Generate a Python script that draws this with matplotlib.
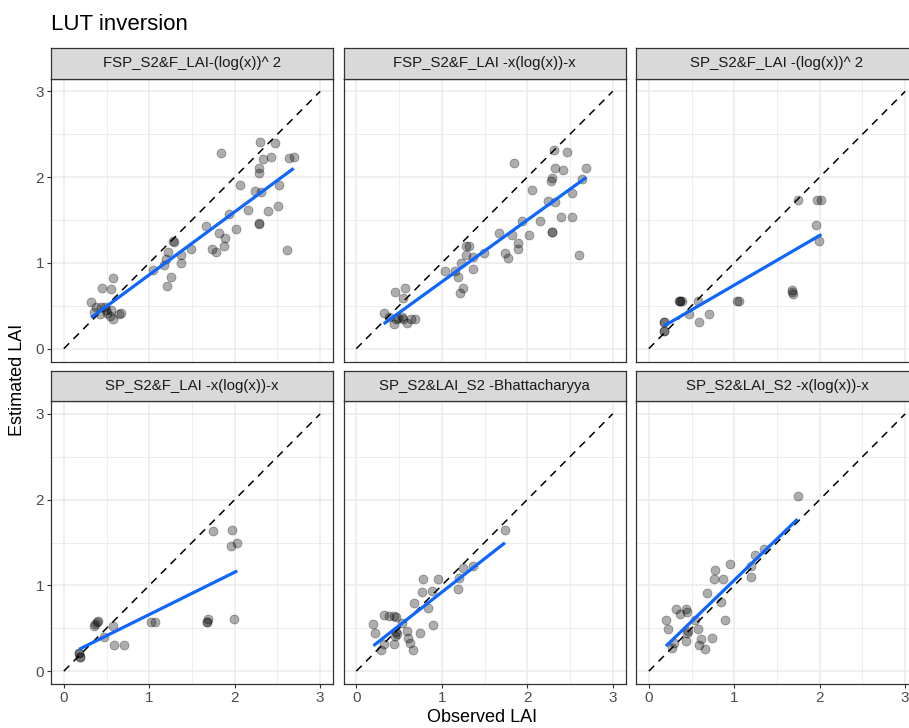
import numpy as np
import matplotlib
matplotlib.use("Agg")
import matplotlib.pyplot as plt

plt.rcParams['font.family'] = ['Liberation Sans', 'DejaVu Sans']

# panel titles
titles = [
    "FSP_S2&F_LAI-(log(x))^ 2",
    "FSP_S2&F_LAI -x(log(x))-x",
    "SP_S2&F_LAI -(log(x))^ 2",
    "SP_S2&F_LAI -x(log(x))-x",
    "SP_S2&LAI_S2 -Bhattacharyya",
    "SP_S2&LAI_S2 -x(log(x))-x",
]

# observed / estimated LAI per panel
obs1 = [2.30, 2.47, 1.84, 2.33, 2.42, 2.63, 2.69, 2.28, 2.28, 2.06, 2.52, 2.24, 2.31, 2.15,
        2.39, 2.51, 1.93, 2.28, 2.28, 1.66, 2.02, 1.82, 1.89, 1.87, 1.73, 1.78, 2.61, 1.28,
        1.29, 1.49, 1.22, 1.37, 1.19, 1.17, 1.37, 1.04, 1.25, 1.21, 0.57, 0.45, 0.55, 0.32,
        0.38, 0.35, 0.44, 0.49, 0.51, 0.55, 0.42, 0.58, 0.65, 0.67, 0.54, 0.48]
est1 = [2.41, 2.40, 2.28, 2.21, 2.24, 2.22, 2.24, 2.11, 2.05, 1.91, 1.91, 1.84, 1.83, 1.62,
        1.61, 1.66, 1.57, 1.47, 1.45, 1.43, 1.39, 1.35, 1.29, 1.20, 1.16, 1.13, 1.15, 1.25,
        1.24, 1.16, 1.13, 1.09, 1.05, 0.98, 1.00, 0.92, 0.83, 0.73, 0.82, 0.71, 0.69, 0.54,
        0.48, 0.43, 0.49, 0.45, 0.42, 0.45, 0.40, 0.35, 0.40, 0.41, 0.38, 0.48]

obs2 = [2.31, 2.47, 1.85, 2.33, 2.42, 2.69, 2.29, 2.28, 2.64, 2.06, 2.52, 2.24, 2.32, 2.39,
        2.52, 1.94, 2.15, 2.29, 2.29, 1.67, 1.82, 2.02, 1.89, 1.89, 1.74, 1.78, 2.61, 1.28,
        1.32, 1.28, 1.37, 1.49, 1.22, 1.04, 1.16, 1.37, 1.19, 1.25, 1.21, 0.45, 0.57, 0.55,
        0.32, 0.38, 0.44, 0.49, 0.53, 0.55, 0.59, 0.64, 0.69, 0.47]
est2 = [2.32, 2.29, 2.16, 2.11, 2.08, 2.11, 1.99, 1.95, 1.98, 1.85, 1.82, 1.72, 1.71, 1.54,
        1.53, 1.49, 1.49, 1.36, 1.36, 1.35, 1.33, 1.33, 1.23, 1.16, 1.12, 1.06, 1.09, 1.20,
        1.20, 1.09, 1.07, 1.11, 1.00, 0.90, 0.90, 0.93, 0.84, 0.71, 0.65, 0.66, 0.71, 0.59,
        0.41, 0.37, 0.29, 0.36, 0.37, 0.34, 0.30, 0.34, 0.35, 0.35]

obs3 = [1.75, 1.97, 2.02, 1.96, 1.99, 1.67, 1.69, 1.68, 0.35, 0.37, 0.37, 0.39, 0.58, 1.03,
        1.06, 0.47, 0.70, 0.59, 0.18, 0.18, 0.18, 0.18]
est3 = [1.73, 1.73, 1.73, 1.44, 1.25, 0.68, 0.64, 0.66, 0.56, 0.56, 0.56, 0.56, 0.56, 0.56,
        0.56, 0.40, 0.40, 0.31, 0.31, 0.31, 0.21, 0.21]

obs4 = [1.75, 1.97, 1.96, 2.03, 1.99, 1.69, 1.68, 1.68, 1.02, 1.07, 0.35, 0.37, 0.39, 0.40,
        0.58, 0.47, 0.59, 0.70, 0.18, 0.18, 0.19, 0.19]
est4 = [1.63, 1.64, 1.46, 1.49, 0.61, 0.61, 0.57, 0.57, 0.57, 0.57, 0.53, 0.55, 0.57, 0.58,
        0.53, 0.40, 0.31, 0.31, 0.21, 0.21, 0.16, 0.16]

obs5 = [1.74, 1.36, 1.25, 1.20, 1.19, 0.78, 0.95, 0.77, 0.88, 0.68, 0.84, 0.90, 0.32, 0.38,
        0.44, 0.46, 0.53, 0.20, 0.22, 0.47, 0.48, 0.45, 0.59, 0.61, 0.63, 0.74, 0.44, 0.32,
        0.29, 0.66]
est5 = [1.64, 1.23, 1.20, 1.09, 0.96, 1.07, 1.08, 0.92, 0.94, 0.80, 0.74, 0.54, 0.66, 0.64,
        0.64, 0.63, 0.56, 0.55, 0.45, 0.46, 0.43, 0.41, 0.47, 0.39, 0.33, 0.44, 0.32, 0.32,
        0.25, 0.25]

obs6 = [1.74, 1.35, 1.24, 1.20, 1.19, 0.95, 0.77, 0.76, 0.87, 0.68, 0.84, 0.89, 0.32, 0.37,
        0.44, 0.45, 0.54, 0.20, 0.22, 0.46, 0.45, 0.44, 0.58, 0.61, 0.59, 0.74, 0.66, 0.27,
        0.29]
est6 = [2.04, 1.42, 1.36, 1.23, 1.10, 1.25, 1.18, 1.07, 1.08, 0.91, 0.81, 0.60, 0.72, 0.67,
        0.72, 0.69, 0.60, 0.60, 0.49, 0.47, 0.44, 0.35, 0.49, 0.37, 0.30, 0.39, 0.26, 0.27,
        0.33]

observed = [obs1, obs2, obs3, obs4, obs5, obs6]
estimated = [est1, est2, est3, est4, est5, est6]
ticks = [0, 1, 2, 3]

W, H = 909, 728
fig = plt.figure(figsize=(W / 100, H / 100), dpi=100)


def px_box(left, top, w, h):
    return [left / W, 1 - (top + h) / H, w / W, h / H]


col_left = [51, 343.5, 636]
row_top = [78.5, 401]
panel_w, panel_h, strip_h = 282, 283, 30.5

for i in range(6):
    r, c = divmod(i, 3)
    ax = fig.add_axes(px_box(col_left[c], row_top[r], panel_w, panel_h))
    ax.set_xlim(-0.15, 3.15)
    ax.set_ylim(-0.15, 3.15)
    ax.set_xticks(ticks)
    ax.set_yticks(ticks)
    ax.set_xticks([0.5, 1.5, 2.5], minor=True)
    ax.set_yticks([0.5, 1.5, 2.5], minor=True)
    ax.grid(True, which='major', color='#EBEBEB', lw=1.1)
    ax.grid(True, which='minor', color='#EBEBEB', lw=0.6)
    ax.set_axisbelow(True)
    for sp in ax.spines.values():
        sp.set_color('#333333')
        sp.set_linewidth(0.9)
    ax.tick_params(which='minor', length=0)
    ax.tick_params(which='major', length=3, width=0.8, color='#333333',
                   labelsize=11, labelcolor='#4D4D4D', pad=2)
    if r == 0:
        ax.tick_params(axis='x', length=0, labelbottom=False)
    if c != 0:
        ax.tick_params(axis='y', length=0, labelleft=False)

    x = np.array(observed[i])
    y = np.array(estimated[i])

    # 1:1 line
    ax.plot([0, 3], [0, 3], color='black', lw=1.1, ls=(0, (5, 4)), zorder=2)
    ax.scatter(x, y, s=42, facecolor='black', edgecolor='black', lw=0.6,
               alpha=0.32, zorder=3)
    # linear fit
    slope, icpt = np.polyfit(x, y, 1)
    xs = np.array([x.min(), x.max()])
    ax.plot(xs, slope * xs + icpt, color='#0F66FF', lw=2.3, zorder=4,
            solid_capstyle='butt')

    # facet strip
    sax = fig.add_axes(px_box(col_left[c], row_top[r] - strip_h, panel_w, strip_h))
    sax.set_facecolor('#D9D9D9')
    sax.set_xticks([])
    sax.set_yticks([])
    for sp in sax.spines.values():
        sp.set_color('#333333')
        sp.set_linewidth(0.9)
    sax.text(0.5, 0.5, titles[i], ha='center', va='center', fontsize=10.8,
             color='#1A1A1A', transform=sax.transAxes)

fig.text(51 / W, 1 - 24 / H, "LUT inversion", fontsize=16, ha='left', va='center')
fig.text(482 / W, 1 - 718 / H, "Observed LAI", fontsize=13, ha='center', va='center')
fig.text(18 / W, 1 - 380 / H, "Estimated LAI", fontsize=13, ha='center', va='center',
         rotation=90)

fig.savefig("out.png", dpi=100)
